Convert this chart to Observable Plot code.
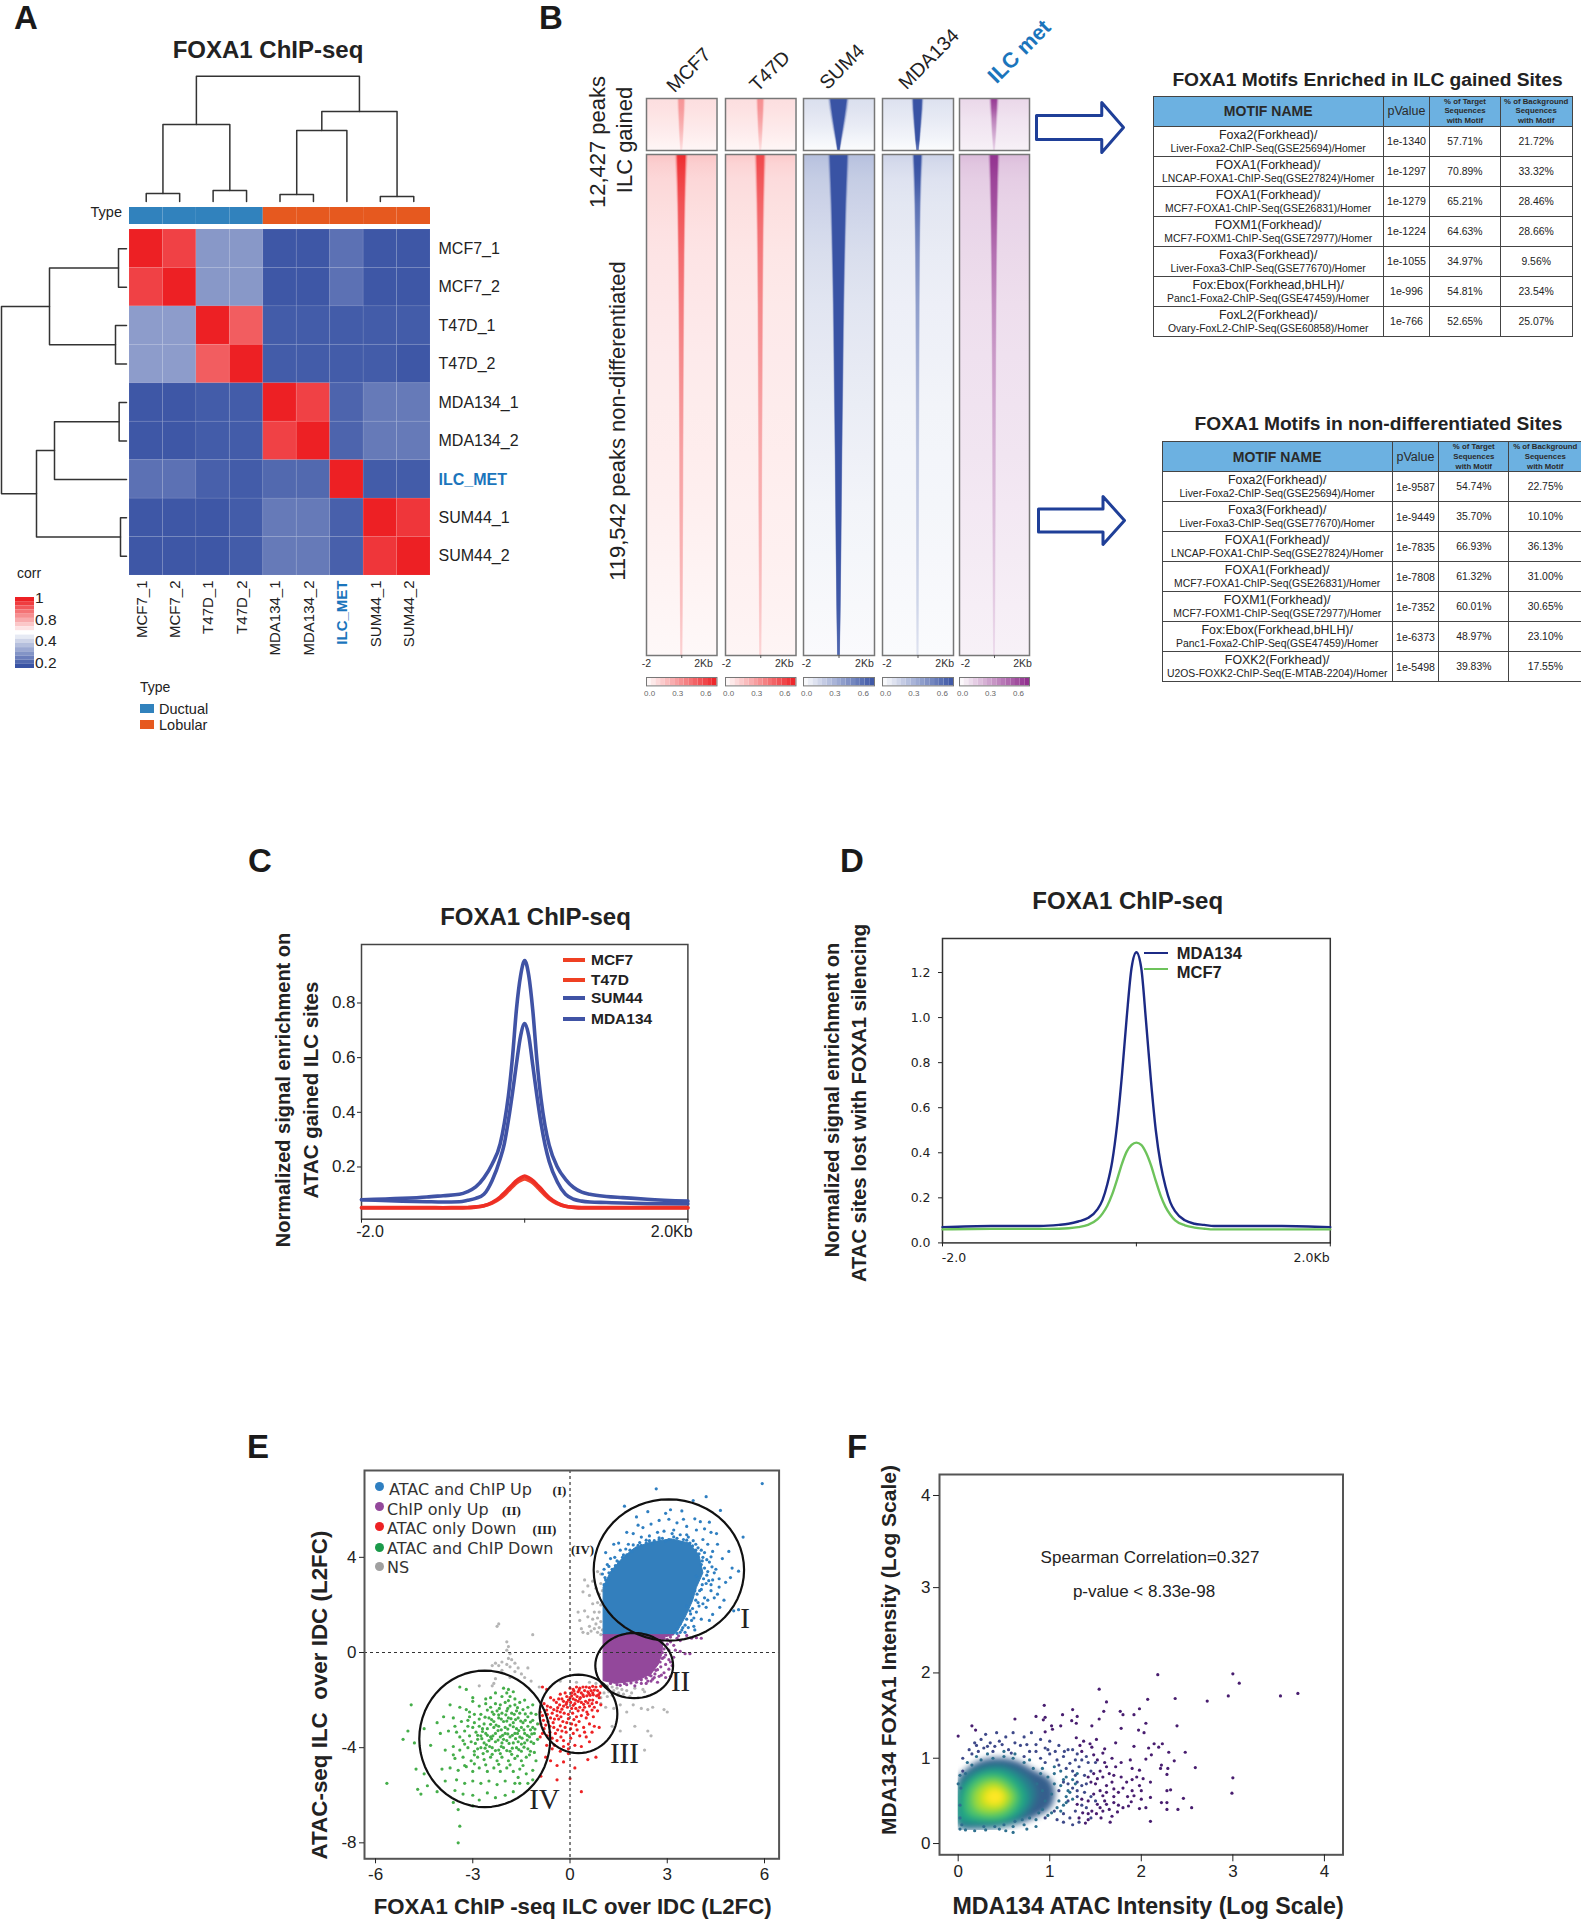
<!DOCTYPE html>
<html><head><meta charset="utf-8">
<script src="https://cdn.jsdelivr.net/npm/d3@7"></script>
<script src="https://cdn.jsdelivr.net/npm/@observablehq/plot@0.6"></script>
<style>
html,body{margin:0;padding:0;background:#fff;overflow:hidden}
#stage{position:relative;width:1581px;height:1920px;overflow:hidden;font-family:"Liberation Sans",Arial,sans-serif;color:#222}
#stage svg{position:absolute;overflow:visible;max-width:none}
.lb{position:absolute;white-space:nowrap;line-height:1}
table.mt{position:absolute;border-collapse:collapse;table-layout:fixed;font-family:"Liberation Sans",Arial,sans-serif;color:#222}
table.mt td,table.mt th{border:1.5px solid #444;padding:0;text-align:center;overflow:hidden;white-space:nowrap}
table.mt th{background:#6CB1E1;font-weight:bold;color:#2a2a2a}
table.mt .a{display:block;font-size:12.4px;line-height:14px}
table.mt .b{display:block;font-size:10.4px;line-height:13px}
</style></head><body><div id="stage"></div>
<script>
// ---------- Panel A values
const sampleNames=["MCF7_1","MCF7_2","T47D_1","T47D_2","MDA134_1","MDA134_2","ILC_MET","SUM44_1","SUM44_2"];
const corrMatrix=[
[1,.94,.36,.36,.21,.21,.27,.21,.21],
[.94,1,.36,.36,.21,.21,.27,.21,.21],
[.37,.37,1,.89,.22,.22,.22,.22,.22],
[.37,.37,.89,1,.22,.22,.22,.22,.21],
[.21,.21,.22,.22,1,.94,.24,.29,.29],
[.21,.21,.22,.22,.94,1,.24,.29,.29],
[.27,.27,.23,.22,.25,.25,1,.22,.22],
[.21,.21,.21,.22,.29,.29,.23,1,.96],
[.21,.21,.21,.22,.29,.29,.23,.96,1]];
const sampleType=["Ductual","Ductual","Ductual","Ductual","Lobular","Lobular","Lobular","Lobular","Lobular"];
const typeColors=["#3182BD","#E6591F"];
const corrSteps=[1,.95,.9,.85,.8,.75,.7,.65,.6,.55,.5,.45,.4,.35,.3,.25,.2];
const treeLeft=[.5,2.5,1,4.5,5,7.5,5.75,2];
const treeRight=[1.5,3.5,3,5.5,6.5,8.5,8,6.875];
const treeLeftChild=[-1,-1,0,-1,3,-1,4,2];
const treeRightChild=[-1,-1,1,-1,-1,-1,5,6];
const treeHeightCols=[.063,.087,.611,.056,.563,.04,.714,.995];
const treeHeightRows=[.064,.088,.616,.059,.576,.048,.72,1];
// ---------- Panel B values
const heatNames=["MCF7","T47D","SUM4","MDA134","ILC met"];
const heatFull=["#ED2024","#ED2024","#3953A4","#3953A4","#8E2A8B"];
const heatBarStops=[0,.05,.1,.15,.2,.25,.3,.35,.4,.45,.5,.55,.6,.65,.7];
const topRows=[0,.2,.4,.6,.8,1];
const topBg=[[.11,.1,.085,.07,.05,.03],[.11,.1,.085,.07,.05,.03],[.14,.12,.1,.075,.045,.015],[.13,.11,.09,.07,.045,.015],[.14,.12,.1,.085,.07,.05]];
const topCore=[[.14,.13,.11,.09,.07,.04],[.14,.13,.11,.09,.07,.04],[.46,.39,.31,.22,.13,.05],[.24,.22,.18,.14,.1,.05],[.15,.13,.11,.09,.06,.03]];
const topVal=[[.36,.34,.3,.25,.18,.1],[.38,.36,.32,.26,.18,.1],[.75,.75,.75,.75,.75,.75],[.75,.75,.75,.75,.75,.6],[.7,.6,.45,.35,.25,.15]];
const topHalo=[[.26,.24,.2,.17,.13,.08],[.26,.24,.2,.17,.13,.08],[.62,.55,.45,.34,.22,.1],[.36,.33,.28,.22,.16,.08],[.3,.27,.22,.18,.13,.08]];
const mainRows=[0,.02,.05,.1,.15,.2,.3,.4,.5,.6,.7,.8,.9,1];
const mainBg=[[.2,.16,.135,.115,.1,.09,.08,.07,.065,.06,.055,.045,.035,.025],[.18,.145,.12,.105,.095,.085,.075,.07,.065,.06,.055,.05,.045,.035],[.28,.25,.22,.19,.165,.145,.115,.095,.08,.065,.05,.04,.03,.02],[.19,.155,.125,.105,.095,.085,.07,.06,.05,.045,.04,.035,.025,.018],[.24,.2,.175,.155,.145,.135,.115,.105,.1,.09,.08,.07,.06,.05]];
const mainCore=[[.22,.21,.19,.165,.15,.135,.115,.105,.095,.085,.08,.07,.06,.045],[.2,.19,.175,.15,.135,.125,.11,.1,.09,.08,.075,.065,.055,.045],[.48,.46,.43,.38,.35,.32,.27,.24,.21,.18,.155,.13,.1,.065],[.2,.18,.15,.125,.11,.1,.085,.075,.07,.065,.06,.055,.05,.04],[.2,.19,.17,.15,.135,.12,.1,.085,.075,.07,.065,.055,.05,.04]];
const mainVal=[[.72,.68,.64,.58,.54,.5,.45,.4,.36,.32,.29,.26,.22,.15],[.62,.6,.57,.52,.48,.45,.4,.36,.32,.29,.27,.24,.2,.14],[.75,.75,.75,.75,.75,.75,.75,.75,.75,.75,.75,.75,.72,.66],[.75,.75,.72,.62,.56,.5,.42,.37,.32,.28,.25,.22,.18,.12],[.72,.7,.66,.62,.56,.5,.42,.36,.32,.28,.25,.22,.18,.13]];
const mainHalo=[[.38,.36,.32,.27,.24,.22,.19,.17,.15,.14,.13,.11,.09,.07],[.35,.33,.3,.26,.23,.21,.18,.165,.15,.13,.12,.105,.09,.07],[.62,.6,.56,.5,.45,.41,.35,.31,.27,.23,.2,.17,.13,.085],[.33,.3,.26,.21,.18,.16,.14,.125,.115,.105,.095,.085,.075,.065],[.35,.33,.3,.25,.22,.2,.17,.15,.13,.12,.11,.095,.085,.065]];
const arrowShapeX=[0,.75,.75,1,.75,.75,0];
const arrowShapeY=[.26,.26,0,.5,1,.74,.74];
// ---------- Motif tables
const motifA1=["Foxa2(Forkhead)/","FOXA1(Forkhead)/","FOXA1(Forkhead)/","FOXM1(Forkhead)/","Foxa3(Forkhead)/","Fox:Ebox(Forkhead,bHLH)/","FoxL2(Forkhead)/"];
const motifA2=["Liver-Foxa2-ChIP-Seq(GSE25694)/Homer","LNCAP-FOXA1-ChIP-Seq(GSE27824)/Homer","MCF7-FOXA1-ChIP-Seq(GSE26831)/Homer","MCF7-FOXM1-ChIP-Seq(GSE72977)/Homer","Liver-Foxa3-ChIP-Seq(GSE77670)/Homer","Panc1-Foxa2-ChIP-Seq(GSE47459)/Homer","Ovary-FoxL2-ChIP-Seq(GSE60858)/Homer"];
const pvalA=["1e-1340","1e-1297","1e-1279","1e-1224","1e-1055","1e-996","1e-766"];
const targetA=["57.71%","70.89%","65.21%","64.63%","34.97%","54.81%","52.65%"];
const backA=["21.72%","33.32%","28.46%","28.66%","9.56%","23.54%","25.07%"];
const motifB1=["Foxa2(Forkhead)/","Foxa3(Forkhead)/","FOXA1(Forkhead)/","FOXA1(Forkhead)/","FOXM1(Forkhead)/","Fox:Ebox(Forkhead,bHLH)/","FOXK2(Forkhead)/"];
const motifB2=["Liver-Foxa2-ChIP-Seq(GSE25694)/Homer","Liver-Foxa3-ChIP-Seq(GSE77670)/Homer","LNCAP-FOXA1-ChIP-Seq(GSE27824)/Homer","MCF7-FOXA1-ChIP-Seq(GSE26831)/Homer","MCF7-FOXM1-ChIP-Seq(GSE72977)/Homer","Panc1-Foxa2-ChIP-Seq(GSE47459)/Homer","U2OS-FOXK2-ChIP-Seq(E-MTAB-2204)/Homer"];
const pvalB=["1e-9587","1e-9449","1e-7835","1e-7808","1e-7352","1e-6373","1e-5498"];
const targetB=["54.74%","35.70%","66.93%","61.32%","60.01%","48.97%","39.83%"];
const backB=["22.75%","10.10%","36.13%","31.00%","30.65%","23.10%","17.55%"];
// ---------- Panel C values
const cX=[-2,-1.5,-1.2,-1,-.8,-.7,-.6,-.5,-.4,-.3,-.25,-.2,-.15,-.1,-.05,0,.05,.1,.15,.2,.25,.3,.4,.5,.6,.7,.8,1,1.2,1.5,2];
const cSum44=[.08,.085,.09,.095,.1,.11,.127,.16,.21,.285,.36,.46,.6,.78,.9,.955,.9,.77,.59,.45,.35,.28,.2,.155,.125,.108,.1,.092,.088,.082,.075];
const cMda134=[.08,.075,.073,.072,.073,.078,.085,.1,.15,.23,.285,.37,.47,.58,.68,.725,.68,.57,.46,.36,.28,.22,.145,.1,.082,.075,.072,.07,.068,.066,.065];
const cMcf7=[.05,.05,.05,.05,.05,.051,.053,.058,.07,.09,.105,.12,.135,.15,.16,.167,.16,.15,.135,.12,.103,.088,.068,.056,.052,.05,.05,.05,.05,.05,.05];
const cT47d=[.052,.052,.052,.051,.052,.052,.054,.058,.068,.085,.098,.113,.128,.142,.151,.156,.151,.142,.128,.112,.097,.083,.066,.056,.053,.052,.052,.052,.052,.052,.052];
// ---------- Panel D values
const dX=[-2,-1.5,-1,-.8,-.7,-.6,-.5,-.4,-.35,-.3,-.25,-.2,-.15,-.1,-.05,0,.05,.1,.15,.2,.25,.3,.35,.4,.5,.6,.7,.8,1,1.5,2];
const dMda134=[.07,.075,.075,.08,.085,.095,.11,.15,.19,.26,.36,.52,.74,1,1.22,1.29,1.22,.98,.72,.5,.35,.25,.18,.14,.1,.085,.08,.075,.075,.075,.07];
const dMcf7=[.06,.062,.062,.063,.065,.07,.08,.105,.13,.165,.215,.28,.35,.405,.435,.445,.435,.4,.345,.275,.21,.16,.125,.1,.078,.068,.063,.06,.06,.06,.06];
// ---------- Panel E values (x,y pairs)
const eBlueCore=[1.02,.75,1.02,2.75,1.25,3.4,1.6,3.95,1.97,4.38,2.43,4.62,3.11,4.78,3.68,4.6,3.98,4.1,4.1,3.35,3.9,2.74,3.78,2.18,3.55,1.48,3.32,.92,3.2,.75];
const ePurpleCore=[1.02,.75,1.02,-1.18,1.4,-1.3,2.08,-1.18,2.5,-.9,2.72,-.5,2.83,-.08,2.88,.64,3.2,.75];
const eBlue=[5.93,7.1,2.66,6.88,1.68,6.15,4.2,6.55,3.8,6.39,4.64,5.97,3.1,6,2.95,5.85,2.4,5.92,2.05,5.7,3.45,5.95,3.5,5.6,3.85,5.62,4.02,5.5,4.3,5.48,4.52,5,5.34,4.85,5.2,3.42,5,3.55,4.9,4.25,4.7,3.95,4.55,4.55,4.35,5.05,4.15,5.2,3.9,5.15,3.6,5.3,3.3,5.45,3.05,5.6,2.75,5.55,2.5,5.4,2.25,5.25,2.1,5.35,1.95,5,1.75,5.05,1.5,4.6,1.35,4.55,1.1,4.2,1.25,3.95,1.15,3.7,1.05,3.5,1,3.3,1.55,4.3,1.8,4.55,2.2,4.85,2.45,4.9,2.7,5.05,2.9,5.1,3.15,5,3.4,4.95,3.65,4.85,3.8,4.7,4.1,4.75,4.25,4.55,4.4,4.25,4.15,4.2,4.3,3.8,4.5,3.5,4.6,3.1,4.8,2.95,4.95,3.15,4.4,3.05,4.25,3.4,4.2,2.9,4.35,2.6,4.55,2.45,4.75,2.2,4.15,2.3,4.05,2.65,3.95,2.1,4.2,1.9,4.4,1.6,3.9,1.7,4.05,1.4,3.75,1.35,3.65,1.05,3.55,.85,3.85,.95,5.2,1.8,5.05,1.75,4.62,1.9,4.05,3.7,4.1,4,3.95,4.4,3.7,4.6,3.5,4.75,3.3,4.8,3.05,4.75,2.85,4.8,2.6,4.7,2.35,4.6,2.1,4.5,1.85,4.3,1.65,4.1,1.45,3.85,1.3,3.5,1.2,3.1,1.15,2.85,3.9,3.2,3.85,2.6,3.75,2.3,3.6,1.95,3.4,1.2,3.3,1];
const eBlueEdge=[1.05,2.85,1.1,3.05,1.2,3.35,1.32,3.45,1.4,3.65,1.5,3.8,1.62,4,1.75,4.1,1.9,4.25,2.05,4.4,2.2,4.5,2.35,4.72,2.55,4.58,2.75,4.82,2.95,4.68,3.2,4.86,3.45,4.62,3.6,4.72,3.78,4.48,3.88,4.3,3.98,4.15,4.08,3.85,4.15,3.55,4.22,3.25,4.12,3.1,4.28,3.02,4.08,2.85,4,2.6,3.92,2.45,3.88,2.2,3.98,1.95,3.78,1.85,3.72,1.62,3.82,1.45,3.6,1.4,3.55,1.15,3.45,.95,3.4,.85,3.3,.8,4.35,2.85,4.45,3.35,4.38,3.6,4.22,3.9,4.35,4.02,4.05,4.3,3.88,4.55,3.6,4.95,3.2,5.15,2.75,4.75,2.45,4.7,2.15,4.62,1.95,4.52,1.72,4.35,1.38,4,1.2,3.62,1.08,3.15,3.7,1.75,4.1,2.05,3.82,1.1,3.48,1.05,4.25,2.2,4.45,2.3,4.3,1.35,4.6,2.75];
const ePurple=[2.9,.6,3.1,.65,3.35,.7,3.6,.72,3.9,.62,4.05,.6,3.2,.3,3.05,.1,3.4,.05,3.55,-.05,3.7,-.05,3.05,-.3,3.2,-.2,2.95,-.5,3.05,-.7,3.15,-.55,2.8,-.6,2.9,-.85,2.75,-1,2.95,-1.05,3.1,-1,2.6,-1.05,2.5,-1.2,2.7,-1.25,2.35,-1.3,2.2,-1.3,2,-1.4,2.85,-.25,2.7,-.35,3,.35,2.9,.15,2.7,.5,1.75,-1.35,1.55,-1.38,2.45,-.95,2.65,-.75,2.6,-.55,2.75,-.1,2.8,.3,2.85,0,2.9,-.2,2.78,-.4,2.7,-.72,2.62,-.9,2.5,-.98,2.35,-1.08,2.2,-1.15,2.05,-1.25,1.88,-1.28,1.68,-1.3,1.45,-1.35,1.25,-1.3,3,.55,3.1,.45,3.3,.6,2.95,-.1,3.1,-.4,2.82,-.95,2.55,-1.12,2.4,-1.2,3.25,.1,3.4,.5,3.75,.6];
const eGrey=[.45,3.05,.55,2.8,.7,3,.85,3.4,.95,3.3,.8,2.7,.95,2.9,.6,2.4,.4,2.55,.25,1.7,.3,1.35,.35,1,.45,1.75,.55,1.5,.6,1.1,.7,1.4,.65,.9,.75,1,.75,1.7,.8,1.2,.85,.85,.9,1.05,.95,.75,.85,1.45,.9,1.7,.95,2,.85,2.1,.7,2.05,.9,2.45,1,2.6,.95,1.3,1,.95,.55,.8,.4,.85,-2.2,1.2,-2.25,1.1,-1.15,.75,-1.95,.45,-1.9,.25,-1.95,.1,-1.85,-.05,-1.9,-.25,-1.8,-.3,-2.3,-.45,-2.1,-.4,-1.95,-.5,-1.7,-.45,-2.4,-.55,-2.2,-.55,-1.85,-.6,-1.6,-.65,-1.7,-.8,-2.1,-.75,-1.3,-.65,-1.5,-.9,-1.85,-1.05,-2.3,-1.1,-2.4,-1.4,-2.8,-1.4,-2.35,-1.3,-1.4,-1.05,-1.2,-1.2,-.95,-1.45,1.15,-1.4,1.3,-1.45,1.45,-1.5,1.6,-1.55,1.75,-1.6,1.9,-1.7,1.35,-1.6,1.5,-1.7,1.65,-1.75,2,-1.5,2.25,-1.55,1.2,-1.65,1.05,-1.7,.95,-1.9,1.15,-1.85,1.3,-1.8,1.85,-1.85,2.1,-1.9,2.3,-1.65,.95,-2.15,1.1,-2.3,1.35,-2.35,1.95,-2.2,2.2,-2.35,2.4,-2.4,2.55,-2.3,2.9,-2.4,3,-2.5,1.55,-2.2,1.75,-2.5,1.3,-3.1,1.55,-3.3,2,-3.1,2.4,-3.3,2.5,-3.5,1.7,-3.9,2.3,-4.1,.6,-1.25,.8,-1.3,.95,-1.4,-.3,-1.2,.2,-1.25];
const eRed=[0,-1.5,.1,-1.55,.2,-1.45,.3,-1.5,.4,-1.45,.5,-1.45,.6,-1.48,.7,-1.42,.8,-1.45,.95,-1.42,.05,-1.7,.15,-1.75,.25,-1.65,.35,-1.7,.45,-1.6,.55,-1.65,.65,-1.6,.75,-1.58,.85,-1.6,.92,-1.7,-.1,-1.85,0,-1.9,.1,-1.95,.22,-1.85,.32,-1.9,.42,-1.85,.52,-1.82,.62,-1.8,.72,-1.78,.82,-1.82,.9,-1.9,-.3,-1.75,-.25,-1.95,-.2,-2.05,-.1,-2.1,.02,-2.1,.15,-2.15,.25,-2.05,.35,-2.1,.48,-2.05,.6,-2,.7,-2,.82,-2.1,-.6,-1.9,-.5,-2,-.42,-2.1,-.32,-2.2,-.2,-2.25,-.08,-2.3,.05,-2.35,.18,-2.35,.3,-2.3,.45,-2.3,.6,-2.25,.75,-2.3,.95,-2.2,-.72,-1.55,-.85,-1.45,-.8,-2.15,-.7,-2.25,-.6,-2.3,-.5,-2.4,-.4,-2.45,-.3,-2.5,-.18,-2.55,-.05,-2.6,.08,-2.55,.2,-2.7,.35,-2.65,.5,-2.75,-.92,-2.5,-.85,-2.65,-.7,-2.6,-.6,-2.75,-.48,-2.8,-.35,-2.8,-.22,-2.9,-.1,-2.95,.05,-3,.18,-3.05,.42,-3.15,.6,-3,.75,-3.1,.9,-3.15,-.9,-3,-.75,-3.05,-.62,-3.1,-.5,-3.15,-.38,-3.25,-.25,-3.3,-.12,-3.35,.1,-3.4,.3,-3.5,.5,-3.55,.68,-3.35,-.85,-3.4,-.7,-3.5,-.55,-3.6,-.4,-3.7,-.2,-3.7,-.05,-3.85,.15,-3.9,.35,-3.95,-.72,-3.9,-.55,-4.05,-.3,-4.15,-.05,-4.25,.55,-4.5,.8,-4.4,-.75,-4.4,-.6,-4.55,-.4,-4.75,-.2,-4.6,.15,-4.85,-.9,-5.2,-.4,-5.35,0,-5.3,.35,-5.85,-.05,-4.05,.12,-1.62,.28,-1.58,.4,-1.78,.58,-1.72,.7,-1.7,.88,-1.78,.05,-1.82,.17,-2,.3,-1.95,.42,-2.18,.55,-2.12,.68,-2.15,-.15,-1.7,-.05,-2,-.35,-1.95,-.38,-2.32,-.12,-2.18,.1,-2.22,.25,-2.45,.4,-2.42,.52,-2.5,.68,-2.42,.85,-2.45,-.25,-2.38,-.55,-2.55,-.72,-2.42,-.82,-2.85,-.4,-2.65,-.28,-2.7,-.05,-2.78,.12,-2.82,.28,-2.9,.55,-2.6,.72,-2.7,-.52,-2.95,-.68,-2.9,-.3,-3.08,-.15,-3.15,.02,-3.2,-.45,-3.4,-.62,-3.35,-.8,-3.2,-.92,-3.55,-.28,-3.55,.22,-3.25,.45,-3.35,.02,-3.6,.6,-3.75,-.2,-3.95,-.48,-3.9];
const eGreen=[-2.05,-1.5,-1.9,-1.55,-1.95,-1.7,-1.75,-1.65,-2.1,-1.85,-1.85,-1.85,-1.7,-1.95,-2.3,-1.7,-2.45,-1.9,-2.6,-1.95,-3.2,-1.55,-3.4,-1.45,-3,-1.9,-3.7,-2.2,-3.4,-2.3,-3.2,-2.4,-3,-2.05,-2.8,-2.25,-2.6,-2.15,-2.45,-2.3,-2.3,-2.15,-2.15,-2.2,-2,-2.1,-1.85,-2.25,-1.7,-2.2,-1.55,-2.1,-1.4,-2,-2.4,-2.5,-2.25,-2.45,-2.1,-2.55,-1.95,-2.45,-1.8,-2.55,-1.65,-2.45,-1.45,-2.4,-1.3,-2.3,-1.15,-2.2,-2.75,-2.6,-2.95,-2.6,-3.1,-2.5,-4.1,-2.95,-3.9,-2.7,-3.6,-2.75,-3.35,-2.9,-3.15,-2.85,-2.95,-2.95,-2.8,-2.8,-2.65,-3,-2.5,-2.75,-2.35,-2.9,-2.2,-2.75,-2.05,-2.9,-1.9,-2.75,-1.75,-2.95,-1.6,-2.75,-1.45,-2.95,-1.3,-2.7,-1.15,-2.85,-1.05,-2.6,-3,-3.15,-2.8,-3.1,-2.55,-3.2,-2.35,-3.15,-2.2,-3.1,-2,-3.15,-1.85,-3.05,-1.65,-3.2,-1.5,-3.15,-1.3,-3.1,-1.15,-3.15,-1,-3,-4.5,-3.2,-4,-3.4,-3.75,-3.3,-3.5,-3.35,-3.25,-3.3,-3.1,-3.5,-2.9,-3.35,-2.75,-3.5,-2.6,-3.4,-2.45,-3.55,-2.3,-3.4,-2.15,-3.55,-2,-3.4,-1.85,-3.55,-1.7,-3.4,-1.55,-3.55,-1.4,-3.4,-1.25,-3.55,-1.1,-3.4,-3.3,-3.7,-3.05,-3.75,-2.85,-3.65,-2.65,-3.8,-2.5,-3.7,-2.3,-3.75,-2.1,-3.8,-1.95,-3.7,-1.75,-3.8,-1.6,-3.75,-1.4,-3.8,-1.2,-3.75,-1,-3.65,-4.8,-3.8,-4.3,-3.9,-3.85,-4.1,-3.6,-3.95,-3.4,-4.1,-3.15,-4,-2.95,-4.15,-2.75,-4,-2.55,-4.15,-2.4,-4,-2.2,-4.1,-2.05,-4,-1.85,-4.15,-1.65,-4,-1.5,-4.15,-1.3,-4.05,-1.1,-4.2,-3.55,-4.45,-3.3,-4.4,-3.05,-4.55,-2.85,-4.4,-2.65,-4.5,-2.45,-4.4,-2.25,-4.55,-2.1,-4.4,-1.9,-4.55,-1.7,-4.45,-1.5,-4.55,-1.35,-4.4,-1.05,-4.55,-4.75,-4.9,-4.5,-5.1,-3.95,-4.9,-3.7,-4.85,-3.45,-4.95,-3.2,-4.8,-3,-5,-2.8,-4.85,-2.55,-5,-2.35,-4.85,-2.15,-5,-1.95,-4.85,-1.75,-5,-1.55,-4.9,-1.35,-5.1,-1.15,-4.95,-3.85,-5.4,-3.5,-5.35,-3.25,-5.5,-3,-5.4,-2.75,-5.5,-2.5,-5.4,-2.25,-5.55,-2,-5.4,-1.7,-5.5,-1.3,-5.5,-1.15,-5.35,-3.55,-5.8,-3.3,-5.95,-3,-6,-2.8,-6.2,-2.55,-5.9,-2.3,-6.1,-2,-6,-1.75,-5.85,-5.65,-5.5,-4.7,-5.75,-4.6,-5.95,-4.1,-5.85,-3.6,-6.3,-3.45,-6.6,-3.4,-7.3,-3.45,-8,-4.9,-2.2,-5,-3.3,-5.15,-3.65,-4.4,-5.6,-3,-6.45,-1.9,-2.02,-1.62,-2.32,-1.92,-2.35,-2.18,-2.35,-2.55,-2.42,-2.35,-2.6,-2.2,-2.62,-1.98,-2.62,-1.72,-2.6,-1.55,-2.55,-1.38,-2.58,-1.2,-2.55,-2.62,-2.72,-2.42,-2.82,-2.12,-2.8,-1.95,-2.88,-1.82,-2.78,-1.68,-2.82,-1.52,-2.88,-1.38,-2.85,-1.22,-2.92,-2.7,-3.2,-2.45,-3.02,-2.28,-3.05,-2.12,-3.25,-1.92,-3.22,-1.75,-3.12,-1.58,-3.28,-1.42,-3.25,-1.22,-3.25,-1.08,-3.22,-2.85,-3.48,-2.7,-3.32,-2.55,-3.48,-2.38,-3.5,-2.22,-3.28,-2.08,-3.48,-1.92,-3.42,-1.78,-3.48,-1.62,-3.4,-1.48,-3.6,-1.32,-3.48,-1.18,-3.42,-2.92,-3.82,-2.72,-3.62,-2.58,-3.88,-2.42,-3.62,-2.22,-3.68,-2.05,-3.65,-1.88,-3.82,-1.68,-3.62,-1.5,-3.85,-1.32,-3.68,-1.12,-3.82,-2.85,-4.05,-2.62,-4.02,-2.48,-3.95,-2.3,-4.12,-2.12,-3.95,-1.95,-4.12,-1.78,-4.02,-1.58,-4.08,-1.42,-3.98,-1.22,-4.15,-2.95,-4.3,-2.68,-4.25,-2.4,-4.28,-2.15,-4.25,-1.8,-4.28,-1.62,-4.35,-1.25,-4.3,-3.25,-4.75,-2.95,-4.68,-2.6,-4.72,-2.2,-4.7,-1.85,-4.72,-1.45,-4.75,-3.15,-3.1,-3.4,-3.55,-3.55,-3.1,-3.1,-2.7,-3.25,-3.85,-3.6,-4.3,-1.6,-5.25,-1.55,-5.5];
const ellCX=[3.05,1.98,.26,-2.63], ellCY=[3.47,-.55,-2.58,-3.63], ellRX=[2.32,1.2,1.2,2.02], ellRY=[2.97,1.37,1.65,2.87];
// ---------- Panel F values (x,y pairs)
const fLevels=[.3,.42,.58,.72,.85,.94,1];
const fContours=[
[0,.2,0,.75,.08,.86,.25,.97,.45,1,.65,.96,.82,.86,1,.75,1.05,.58,1,.42,.85,.32,.7,.25,.45,.19,.2,.17],
[0,.22,0,.68,.1,.82,.25,.9,.45,.93,.62,.88,.78,.76,.85,.6,.8,.42,.68,.28,.45,.21,.2,.2],
[.02,.28,.02,.6,.12,.76,.27,.85,.45,.87,.6,.81,.72,.68,.76,.52,.68,.36,.52,.26,.3,.24,.12,.25],
[.1,.36,.09,.6,.18,.74,.32,.8,.47,.79,.6,.7,.67,.55,.62,.4,.48,.3,.28,.29],
[.18,.42,.17,.6,.26,.7,.4,.74,.52,.68,.6,.55,.54,.42,.42,.36,.28,.36],
[.26,.47,.26,.6,.34,.67,.45,.66,.53,.56,.49,.45,.38,.42],
[.32,.5,.32,.58,.39,.63,.47,.6,.49,.53,.43,.47,.37,.47]];
const fDark=[2.18,1.98,3,1.99,3.07,1.88,2.95,1.73,3.52,1.73,3.71,1.76,2.72,1.67,2.37,1.7,2.07,1.69,1.54,1.81,1.62,1.66,1.98,1.58,1.77,1.55,1.8,1.51,1.92,1.51,1.59,1.55,1.54,1.46,1.25,1.57,1.3,1.49,1.24,1.44,1.29,1.41,.94,1.62,.85,1.49,.95,1.48,.93,1.45,1.14,1.51,.62,1.46,2.05,1.41,2.39,1.38,1.78,1.35,1.97,1.33,2.03,1.3,1.46,1.38,1.12,1.38,1.02,1.38,1.03,1.34,.95,1.31,1.29,1.24,1.51,1.22,.15,1.38,.19,1.33,0,1.26,1.37,1.2,1.44,1.17,1.46,1.13,1.33,1.15,1.6,1.11,1.72,1.18,1.92,1.14,2.14,1.17,2.08,1.12,2.19,1.13,2.23,1.17,2.3,1.07,2.48,1.07,2.11,1.04,2.05,.99,2.36,.97,2.59,.89,2.22,.92,2.21,.88,2.28,.81,2.29,.88,3,.77,2.99,.59,2.32,.63,2.28,.62,2.46,.53,2.55,.42,2.4,.4,2.28,.4,2.28,.48,2.22,.48,2.1,.54,2,.52,2,.62,1.9,.62,1.89,.49,2.05,.42,1.98,.41,2.1,.26,1.66,.25,1.39,.24,1.74,.37,1.42,.35,1.51,.35,1.86,.44,1.6,.95,1.68,1,1.55,.85,1.72,.9,1.65,.82,1.78,.78,1.9,.75,1.98,.68,2.1,.72,1.68,.72,1.75,.6,1.62,.6,1.7,.55,1.55,.62,1.6,.5,1.75,.45,1.65,.4,1.8,.65,1.85,.55,1.95,.78,1.5,.7,1.45,.72,1.55,.42,1.35,1.08,1.48,1.04,1.58,1.06,1.52,.98,1.62,.9,1.7,.8,1.58,.78,1.48,.82,1.42,.78,1.52,.76,1.62,.68,1.7,.64,1.58,.56,1.48,.58,1.42,.5,1.52,.46,1.62,.46,1.7,.48,1.58,.38,1.46,.38,1.36,.36,1.32,.3,1.42,.28,1.56,.3,1.68,.32,1.8,.42,1.92,.56,1.84,.72,1.78,.95,1.88,.98,1.9,.88,1.98,.86,2.02,.76,1.35,.52,1.3,.46];
const fBlue=[1,1.2,1.1,1.15,1.2,1.1,.9,1.22,.8,1.3,.72,1.25,.6,1.3,.52,1.25,.42,1.3,.3,1.28,.25,1.22,.35,1.18,.2,1.15,.12,1.1,.05,1,.05,.85,.15,1.05,.45,1.2,.68,1.15,.95,1.12,1.3,1.05,1.4,1.02,1.42,.95,1.28,.98,1.15,1.02,1,1.05,.85,1.08,.72,1.02,.55,1.1,.38,1.08,1.32,.9,1.45,.85,1.38,.8,1.25,.85,1.1,.92,.95,.95,1.3,.72,1.4,.7,1.25,.65,1.15,.72,1.38,.6,1.3,.55,1.45,.55,1.2,.5,1.35,.45,1.28,.38,1.4,.42,1.15,.35,1.22,.3,1.08,.28,.95,.3,1.45,.3,1.25,.22,1.05,.38,1.1,.62,1.3,.62,1.5,.5,1.5,.95,.18,1.18,.28,1.12,.4,1.14,.48,1.16,.62,1.18,.75,1.16,.85,1.16,.98,1.1,1.06,1.08,1.16,1.08,1.25,1.1,.22,1.08,.32,1.14,.58,1.06,.78,1.08,.9,1,1.08,.98,1.22,.94,1.35,.98,1.18,.88,1.28,.8,1.2,.7,1.35,.68,1.32,.25,1.15,.25];
const fTeal=[0,.7,.02,.8,.1,.95,.2,1.02,.32,1.05,.5,1.08,.62,1.05,.78,.98,.92,.88,1.05,.82,1.15,.75,1.2,.62,1.18,.48,1.12,.38,.98,.33,.85,.28,.72,.22,.6,.2,.45,.17,.3,.16,.18,.15,.08,.16,.02,.17,.52,.15,.75,.17,.85,.2,.6,.13,1.05,.9,1.12,.85,1.18,.78,1.25,.75,1.3,.82,1.22,.6,1.28,.7,1.18,.55,1.25,.52,1.15,.45,1.08,.42,1.02,.36,.92,.4,.88,.36,.78,.3,.7,.28,.62,.26,.5,.22,.4,.2,.28,.2,1.12,.68,1.05,.7,1.02,.58,1.1,.5,.98,.78,.9,.82,.82,.88,.72,.95,.6,1,.5,1.02,.38,1,.25,.98,.15,.92,.08,.82,.03,.65,.02,.45,.02,.3,.04,.22,.95,.5,.92,.62,.86,.7];

// ---------- helpers
const stage=document.getElementById("stage");
const FONT='"Liberation Sans",Arial,sans-serif';
function panel([x0,y0,x1,y1],[l,t,r,b],opts){
  const svg=Plot.plot({width:x1-x0+l+r,height:y1-y0+t+b,marginLeft:l,marginTop:t,marginRight:r,marginBottom:b,
    ...opts,style:{background:"transparent",fontFamily:FONT,color:"#222",overflow:"visible",...(opts.style||{})}});
  svg.style.left=(x0-l)+"px";svg.style.top=(y0-t)+"px";
  stage.appendChild(svg);return svg;
}
function label(text,x,y,o={}){
  const e=document.createElement("div");e.className="lb";e.textContent=text;
  e.style.left=x+"px";e.style.top=y+"px";e.style.fontSize=(o.size||14)+"px";
  e.style.color=o.color||"#222";e.style.fontWeight=o.bold?"bold":"normal";
  if(o.family)e.style.fontFamily=o.family;
  const a=o.anchor||"middle",r=o.rotate||0;
  if(a==="start"){e.style.transformOrigin="0 50%";e.style.transform=`translate(0,-50%) rotate(${r}deg)`;}
  else if(a==="end"){e.style.transformOrigin="100% 50%";e.style.transform=`translate(-100%,-50%) rotate(${r}deg)`;}
  else e.style.transform=`translate(-50%,-50%) rotate(${r}deg)`;
  stage.appendChild(e);return e;
}
function swatch(x,y,w,h,c,round){
  const e=document.createElement("div");e.style.cssText=`position:absolute;left:${x}px;top:${y}px;width:${w}px;height:${h}px;background:${c};${round?"border-radius:50%;":""}`;
  stage.appendChild(e);
}
const pairs=a=>d3.range(0,a.length,2).map(i=>({x:a[i],y:a[i+1]}));
function treeLines(heights){
  const out=[];
  const base=c=>c<0?0:heights[c];
  treeLeft.forEach((l,i)=>{
    out.push({z:i,p:l,h:base(treeLeftChild[i])},{z:i,p:l,h:heights[i]},{z:i,p:treeRight[i],h:heights[i]},{z:i,p:treeRight[i],h:base(treeRightChild[i])});
  });
  return out;
}
const panelLetter=(t,x,y)=>label(t,x,y,{size:33,bold:true,color:"#1a1a1a",anchor:"start"});

// ---------- Panel A
panelLetter("A",14,17);
label("FOXA1 ChIP-seq",268,50,{size:24,bold:true,color:"#222"});
const corrColor={type:"linear",domain:[.2,.6,1],range:["#3953A4","#FFFFFF","#ED2024"]};
const blueName="#1B75BC";
const isMet=d=>d==="ILC_MET";
panel([129,229,430,575],[0,0,130,90],{
  x:{domain:sampleNames,padding:0,round:false,axis:null},y:{domain:sampleNames,padding:0,round:false,axis:null},color:corrColor,
  marks:[
    Plot.cell(sampleNames.flatMap((r,i)=>sampleNames.map((c,j)=>({r,c,v:corrMatrix[i][j]}))),{x:"c",y:"r",fill:"v",stroke:"#ffffff",strokeOpacity:.06}),
    Plot.text(sampleNames.filter(d=>!isMet(d)),{y:d=>d,frameAnchor:"right",textAnchor:"start",dx:8,fontSize:16,fill:"#222"}),
    Plot.text(sampleNames.filter(isMet),{y:d=>d,frameAnchor:"right",textAnchor:"start",dx:8,fontSize:16,fontWeight:"bold",fill:blueName}),
    Plot.text(sampleNames.filter(d=>!isMet(d)),{x:d=>d,frameAnchor:"bottom",rotate:-90,textAnchor:"end",lineAnchor:"middle",dy:5,dx:-4.5,fontSize:15,fill:"#222"}),
    Plot.text(sampleNames.filter(isMet),{x:d=>d,frameAnchor:"bottom",rotate:-90,textAnchor:"end",lineAnchor:"middle",dy:5,dx:-4.5,fontSize:15,fontWeight:"bold",fill:blueName})
  ]});
panel([129,207,430,224],[0,0,0,0],{
  x:{domain:sampleNames,padding:0,round:false,axis:null},y:{axis:null},color:{domain:["Ductual","Lobular"],range:typeColors},
  marks:[Plot.cell(sampleNames,{x:d=>d,fill:(d,i)=>sampleType[i]})]});
label("Type",122,212,{size:14.5,anchor:"end"});
panel([129,75,430,201],[0,2,0,2],{
  x:{domain:[0,9],axis:null},y:{domain:[0,1],axis:null},
  marks:[Plot.line(treeLines(treeHeightCols),{x:"p",y:"h",z:"z",stroke:"#333",strokeWidth:1.5})]});
panel([1,229,126,575],[2,0,2,0],{
  x:{domain:[1,0],axis:null},y:{domain:[0,9],reverse:true,axis:null},
  marks:[Plot.line(treeLines(treeHeightRows),{x:"h",y:"p",z:"z",stroke:"#333",strokeWidth:1.5})]});
label("corr",29,573,{size:14});
panel([15,597,34,668],[0,0,0,0],{
  x:{axis:null},y:{domain:corrSteps,padding:0,round:false,axis:null},color:corrColor,
  marks:[Plot.cell(corrSteps,{y:d=>d,fill:d=>d})]});
[["1",598],["0.8",620],["0.4",641],["0.2",663]].forEach(([t,y])=>label(t,35,y,{size:15.5,anchor:"start"}));
label("Type",140,687,{size:14,anchor:"start"});
swatch(140,704,14,9,typeColors[0]);swatch(140,720,14,9,typeColors[1]);
label("Ductual",159,709,{size:14.5,anchor:"start"});
label("Lobular",159,725,{size:14.5,anchor:"start"});

// ---------- Panel B
panelLetter("B",539,17);
const heatX=[[645.5,716],[724.5,795],[803,874],[882,953],[959,1029]];
const headAnchor=[[670,89],[753,88],[823,86],[902,86],[992,80]];
heatNames.forEach((n,i)=>{
  const c=i===4;
  label(n,headAnchor[i][0],headAnchor[i][1],{size:c?21.5:19.5,anchor:"start",rotate:-45,bold:c,color:c?blueName:"#222"});
});
label("12,427 peaks",598,142,{size:22,rotate:-90});
label("ILC gained",625,140,{size:22,rotate:-90});
label("119,542 peaks non-differentiated",618,421,{size:22,rotate:-90});
let gradId=0;
function heat(frame,pad,full,rows,bg,core,val,halo,withTick){
  const col=d3.scaleLinear().domain([0,.75]).range(["#FFFFFF",full]);
  const id="g"+(gradId++);
  const widthMix=[1,.72,.48,.26,0], valueMix=[.1,.25,.45,.72,1];
  const scales={x:{domain:[-2,2],axis:null},y:{domain:[1,0],axis:null}};
  const layers=widthMix.map((w,k)=>Plot.area(rows.map((y,i)=>({y,hw:core[i]+(halo[i]-core[i])*w})),
    {x1:d=>-d.hw,x2:d=>d.hw,y1:"y",y2:"y",fill:`url(#${id}w${k})`}));
  // bottom layer: the signal, softened a little; top layer: the crisp frame
  const base=panel(frame,[0,0,0,0],{...scales,
    marks:[Plot.rect([0],{x1:-2,x2:2,y1:0,y2:1,fill:`url(#${id}b)`}),...layers]});
  const grad=(gid,f)=>`<linearGradient id="${gid}" x1="0" y1="0" x2="0" y2="1">${rows.map((y,i)=>`<stop offset="${y}" stop-color="${f(i)}"/>`).join("")}</linearGradient>`;
  const defs=grad(id+"b",i=>col(bg[i]))+valueMix.map((m,k)=>grad(id+"w"+k,i=>col(bg[i]+(val[i]-bg[i])*m))).join("");
  base.insertAdjacentHTML("afterbegin",`<defs>${defs}</defs>`);
  base.style.filter="blur(.7px)";
  base.style.clipPath="inset(0)";
  panel(frame,pad,{...scales,
    marks:[Plot.frame({stroke:"#777",strokeWidth:1.5}),
      ...(withTick?[Plot.axisX({ticks:[0],tickSize:3,tickFormat:()=>"",label:null,stroke:"#555"})]:[])]});
}
const minusDx=[1,2,3.4,5,6.5],kbDx=[12.4,10.7,9.6,8.3,6.5];
heatX.forEach(([x0,x1],i)=>{
  heat([x0,98,x1,150],[1,1,1,1],heatFull[i],topRows,topBg[i],topCore[i],topVal[i],topHalo[i],false);
  heat([x0,154,x1,655],[1,1,1,5],heatFull[i],mainRows,mainBg[i],mainCore[i],mainVal[i],mainHalo[i],true);
  label("-2",x0+minusDx[i],663,{size:10.5,color:"#333"});
  label("2Kb",x1-kbDx[i],663,{size:10.5,color:"#333"});
  panel([x0,676.6,x1,685],[1,1,1,13],{
    x:{domain:[0,.75],axis:null},y:{axis:null},color:{type:"linear",domain:[0,.75],range:["#FFFFFF",heatFull[i]]},
    marks:[Plot.rect(heatBarStops,{x1:d=>d,x2:d=>d+.05,fill:d=>d+.025}),
      Plot.frame({stroke:"#777",strokeWidth:1}),
      Plot.text([0,.3,.6],{x:d=>d,frameAnchor:"bottom",lineAnchor:"top",dy:4,dx:3,text:d=>d.toFixed(1),fontSize:8,fill:"#666"})]});
});
const arrows=[[1036,102,1123,152],[1038,496,1124,544]];
arrows.forEach(f=>panel(f,[2,2,2,2],{x:{domain:[0,1],axis:null},y:{domain:[1,0],axis:null},
  marks:[Plot.line(arrowShapeX.map((x,i)=>({x,y:arrowShapeY[i]})).concat([{x:arrowShapeX[0],y:arrowShapeY[0]}]),{x:"x",y:"y",stroke:"#1F3F98",strokeWidth:3,fill:"#fff"})]}));

// ---------- Motif tables
function motifTable(left,top,widths,headH,rowH,m1,m2,p,t,bk){
  const tb=document.createElement("table");tb.className="mt";tb.style.left=left+"px";tb.style.top=top+"px";
  tb.style.width=d3.sum(widths)+"px";
  const cg=widths.map(w=>`<col style="width:${w}px">`).join("");
  const smallHead=a=>`<th style="font-size:7.8px;line-height:9.6px;height:${headH}px">${a}</th>`;
  let h=`<colgroup>${cg}</colgroup><tr><th style="font-size:14px;height:${headH}px">MOTIF NAME</th><th style="font-size:12.5px;font-weight:normal">pValue</th>${smallHead("% of Target<br>Sequences<br>with Motif")}${smallHead("% of Background<br>Sequences<br>with Motif")}</tr>`;
  m1.forEach((n,i)=>{h+=`<tr><td style="height:${rowH}px"><span class="a">${n}</span><span class="b">${m2[i]}</span></td><td style="font-size:10.6px">${p[i]}</td><td style="font-size:10.4px">${t[i]}</td><td style="font-size:10.4px">${bk[i]}</td></tr>`;});
  tb.innerHTML=h;stage.appendChild(tb);
}
label("FOXA1 Motifs Enriched in ILC gained Sites",1367.5,80,{size:19.2,bold:true});
motifTable(1152.7,95.7,[230,46.6,70.4,72],29,29,motifA1,motifA2,pvalA,targetA,backA);
label("FOXA1 Motifs in non-differentiated Sites",1378.5,424,{size:19.2,bold:true});
motifTable(1161.7,441.3,[230,46.6,70,73],29,29,motifB1,motifB2,pvalB,targetB,backB);

// ---------- Panel C
panelLetter("C",248,860);
label("FOXA1 ChIP-seq",535.5,917,{size:24,bold:true});
label("Normalized signal enrichment on",283,1090,{size:20,bold:true,rotate:-90});
label("ATAC gained ILC sites",311,1090,{size:20.5,bold:true,rotate:-90});
const lineData=(xs,ys)=>xs.map((x,i)=>({x,y:ys[i]}));
panel([361.3,944.3,687.7,1219],[40,1,1,30],{
  x:{domain:[-2,2],axis:null},y:{domain:[.009,1.014],axis:null},
  marks:[
    Plot.frame({stroke:"#444",strokeWidth:1.5}),
    Plot.axisY({ticks:[.2,.4,.6,.8],tickFormat:".1f",tickSize:4,tickPadding:2,label:null,fontSize:17,anchor:"left"}),
    Plot.axisX({ticks:[-2,0,2],tickSize:4,tickFormat:()=>"",label:null,anchor:"bottom"}),
    Plot.line(lineData(cX,cSum44),{x:"x",y:"y",stroke:"#4053A5",strokeWidth:3.6,curve:"monotone-x"}),
    Plot.line(lineData(cX,cMda134),{x:"x",y:"y",stroke:"#4053A5",strokeWidth:3.6,curve:"monotone-x"}),
    Plot.line(lineData(cX,cT47d),{x:"x",y:"y",stroke:"#F0452E",strokeWidth:3.6,curve:"monotone-x"}),
    Plot.line(lineData(cX,cMcf7),{x:"x",y:"y",stroke:"#EE2E24",strokeWidth:3.6,curve:"monotone-x"})
  ]});
label("-2.0",370,1231.7,{size:16});
label("2.0Kb",671.7,1231.7,{size:16});
[["MCF7",960,"#EF4023"],["T47D",980,"#EF4023"],["SUM44",998,"#4053A5"],["MDA134",1019,"#4053A5"]].forEach(([t,y,c])=>{
  swatch(563,y-2,22,4,c);label(t,591,y,{size:15.5,bold:true,anchor:"start"});});

// ---------- Panel D
panelLetter("D",840,860);
label("FOXA1 ChIP-seq",1127.7,900.7,{size:24,bold:true});
label("Normalized signal enrichment on",832,1100,{size:20,bold:true,rotate:-90});
label("ATAC sites lost with FOXA1 silencing",859,1103,{size:20.2,bold:true,rotate:-90});
panel([941.8,938.3,1329.6,1242.7],[40,1,1,20],{
  x:{domain:[-2,2],axis:null},y:{domain:[0,1.351],axis:null},
  marks:[
    Plot.frame({stroke:"#333",strokeWidth:1.5}),
    Plot.axisY({ticks:[0,.2,.4,.6,.8,1,1.2],tickFormat:".1f",tickSize:4,tickPadding:8,label:null,fontSize:12.5,fontFamily:"DejaVu Sans",anchor:"left"}),
    Plot.axisX({ticks:[-2,0,2],tickSize:4,tickFormat:()=>"",label:null,anchor:"bottom"}),
    Plot.line(lineData(dX,dMda134),{x:"x",y:"y",stroke:"#1C2A85",strokeWidth:2.4,curve:"monotone-x"}),
    Plot.line(lineData(dX,dMcf7),{x:"x",y:"y",stroke:"#6DC35B",strokeWidth:2.4,curve:"monotone-x"})
  ]});
label("-2.0",941.8,1258,{size:12.5,family:"DejaVu Sans",anchor:"start"});
label("2.0Kb",1329.6,1258,{size:12.5,family:"DejaVu Sans",anchor:"end"});
[["MDA134",952.7,"#1C2A85"],["MCF7",972,"#6DC35B"]].forEach(([t,y,c])=>{
  swatch(1143.6,y-1.2-(t==="MCF7"?2.7:0),24.4,2.4,c);label(t,1176.8,y,{size:16.5,bold:true,anchor:"start"});});

// ---------- Panel E
panelLetter("E",247,1446);
const eDot=(a,c)=>Plot.dot(pairs(a),{x:"x",y:"y",r:1.6,fill:c,stroke:"none"});
const ellipse=i=>d3.range(0,366,6).map(t=>({x:ellCX[i]+ellRX[i]*Math.cos(t*Math.PI/180),y:ellCY[i]+ellRY[i]*Math.sin(t*Math.PI/180)}));
const poly=(a,o)=>Plot.line(pairs(a).concat(pairs(a).slice(0,1)),{x:"x",y:"y",...o});
panel([364,1470,778.6,1858.3],[30,1,1,30],{
  x:{domain:[-6.34,6.45],axis:null},y:{domain:[-8.67,7.65],axis:null},
  marks:[
    eDot(eGrey,"#B5B5B5"),
    poly(eBlueCore,{fill:"#337FBD",stroke:"#337FBD",strokeWidth:1}),eDot(eBlue,"#2F7FC1"),eDot(eBlueEdge,"#2F7FC1"),
    poly(ePurpleCore,{fill:"#93489B",stroke:"#93489B",strokeWidth:1}),eDot(ePurple,"#93489B"),
    eDot(eRed,"#ED2224"),eDot(eGreen,"#45AE4A"),
    Plot.ruleX([0],{stroke:"#333",strokeDasharray:"3,3",strokeWidth:1.2}),
    Plot.ruleY([0],{stroke:"#333",strokeDasharray:"3,3",strokeWidth:1.2}),
    ...[0,1,2,3].map(i=>Plot.line(ellipse(i),{x:"x",y:"y",stroke:"#111",strokeWidth:2.2})),
    Plot.frame({stroke:"#555",strokeWidth:2}),
    Plot.axisY({ticks:[-8,-4,0,4],tickSize:5,tickPadding:3,label:null,fontSize:17,anchor:"left",tickFormat:d=>d}),
    Plot.axisX({ticks:[-6,-3,0,3,6],tickSize:5,tickPadding:4,label:null,fontSize:17,anchor:"bottom",tickFormat:d=>d})
  ]});
label("FOXA1 ChIP -seq ILC over IDC (L2FC)",572.7,1907,{size:22.2,bold:true});
label("ATAC-seq ILC  over IDC (L2FC)",319.5,1695,{size:22.4,bold:true,rotate:-90}).style.whiteSpace="pre";
[["ATAC and ChIP Up",389,1490,"#2F7FC1",1486.7,"(I)",552.6],["ChIP only Up",387,1509.5,"#93489B",1506,"(II)",502],["ATAC only Down",387,1529,"#ED2224",1526.7,"(III)",532.6],["ATAC and ChIP Down",387,1548.5,"#1A9A4A",1547.7,"(IV)",571],["NS",387,1568,"#A0A0A0",1566,"",0]].forEach(([t,x,y,c,dy,rn,rx])=>{
  swatch(375,dy-4.5,9,9,c,true);
  label(t,x,y,{size:16,anchor:"start",family:'"DejaVu Sans",sans-serif',color:"#333"});
  if(rn)label(rn,rx,y,{size:13,bold:true,anchor:"start",family:'"Liberation Serif",serif'});
});
[["I",745,1618],["II",680.6,1680.7],["III",624.4,1753],["IV",544.5,1799]].forEach(([t,x,y])=>label(t,x,y,{size:29,family:'"Liberation Serif",serif',color:"#222"}));

// ---------- Panel F
panelLetter("F",847,1446);
const fDot=(a,v)=>Plot.dot(pairs(a),{x:"x",y:"y",r:1.6,fill:()=>v,stroke:"none"});
const fScales={x:{domain:[-.204,4.203],axis:null},y:{domain:[-.132,4.326],axis:null},color:{type:"linear",scheme:"viridis",domain:[0,1]}};
const blob=panel([939,1473.7,1342.5,1854],[35,1,1,30],{...fScales,
  marks:fContours.map((c,i)=>Plot.line(pairs(c),{x:"x",y:"y",z:()=>i,curve:"catmull-rom-closed",fill:()=>fLevels[i],stroke:()=>fLevels[i],strokeWidth:1}))});
blob.style.filter="blur(3px)";
blob.style.clipPath="inset(0 0 54px 53.7px)";
panel([939,1473.7,1342.5,1854],[35,1,1,30],{...fScales,
  marks:[
    fDot(fDark,.08),fDot(fBlue,.22),fDot(fTeal,.36),
    Plot.frame({stroke:"#555",strokeWidth:2}),
    Plot.axisY({ticks:[0,1,2,3,4.08],tickSize:6,tickPadding:3,label:null,fontSize:17,anchor:"left",tickFormat:d=>Math.round(d)}),
    Plot.axisX({ticks:[0,1,2,3,4],tickSize:7,tickPadding:3,label:null,fontSize:17,anchor:"bottom",tickFormat:d=>d})
  ]});
label("Spearman Correlation=0.327",1150,1556.7,{size:17});
label("p-value < 8.33e-98",1144,1591,{size:17});
label("MDA134 ATAC Intensity (Log Scale)",1148,1907,{size:23.2,bold:true});
label("MDA134 FOXA1 Intensity (Log Scale)",888,1650,{size:21,bold:true,rotate:-90});
</script></body></html>
